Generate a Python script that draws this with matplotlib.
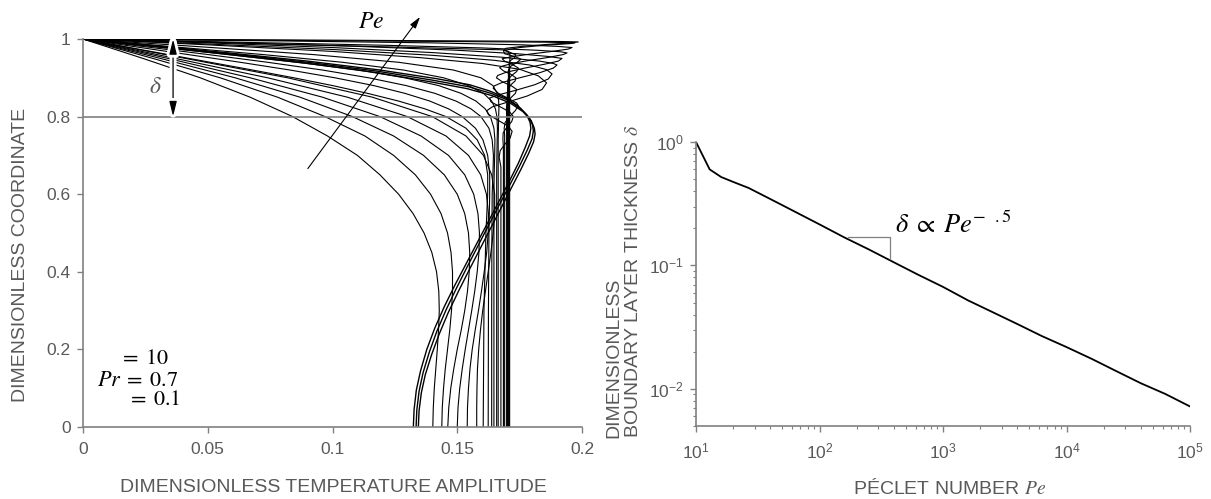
import numpy as np
import matplotlib
matplotlib.use("Agg")
import matplotlib.pyplot as plt
import matplotlib.patheffects as pe
from matplotlib.ticker import LogLocator, NullFormatter

plt.rcParams['font.family'] = ['Liberation Sans', 'DejaVu Sans']
plt.rcParams['mathtext.fontset'] = 'stix'

GREY = '#595959'
AXC = '#808080'

# ---- left panel: amplitude (x) against coordinate (y)
# low Pe, rounded profiles
arc_y = [1.0, 0.95, 0.9, 0.85, 0.8, 0.75, 0.7, 0.65, 0.6, 0.55, 0.5,
         0.45, 0.4, 0.35, 0.3, 0.25, 0.2, 0.15, 0.1, 0.05, 0.0]
arc_x = [
    [0, 0.024, 0.047, 0.067, 0.084, 0.098, 0.110, 0.119, 0.1265, 0.1323, 0.1367,
     0.1398, 0.1417, 0.1426, 0.1428, 0.1425, 0.1420, 0.1414, 0.1408, 0.1404, 0.1402],
    [0, 0.028, 0.055, 0.078, 0.097, 0.113, 0.1245, 0.1332, 0.1393, 0.1435, 0.1461,
     0.1475, 0.1481, 0.1481, 0.1477, 0.1470, 0.1461, 0.1452, 0.1445, 0.1440, 0.1438],
    [0, 0.031, 0.061, 0.087, 0.108, 0.1245, 0.1365, 0.1448, 0.1500, 0.1530, 0.1545,
     0.1550, 0.1548, 0.1541, 0.1530, 0.1516, 0.1500, 0.1486, 0.1474, 0.1466, 0.1462],
    [0, 0.034, 0.067, 0.096, 0.119, 0.1355, 0.1465, 0.1530, 0.1566, 0.1583, 0.1589,
     0.1587, 0.1580, 0.1570, 0.1558, 0.1545, 0.1532, 0.1520, 0.1510, 0.1503, 0.1500],
    [0, 0.037, 0.074, 0.106, 0.130, 0.1455, 0.1545, 0.1594, 0.1617, 0.1625, 0.1624,
     0.1618, 0.1608, 0.1597, 0.1585, 0.1572, 0.1560, 0.1551, 0.1545, 0.1541, 0.1540],
    [0, 0.041, 0.082, 0.116, 0.140, 0.1535, 0.1605, 0.1638, 0.1650, 0.1650, 0.1644,
     0.1635, 0.1624, 0.1613, 0.1602, 0.1593, 0.1586, 0.1581, 0.1579, 0.1578, 0.1578],
]

# medium Pe, squarer profiles
knee_y = [1.0, 0.98, 0.96, 0.94, 0.92, 0.9, 0.88, 0.86, 0.84, 0.82, 0.8,
          0.77, 0.74, 0.7, 0.65, 0.6, 0.5, 0.3, 0.0]
knee_x = [
    [0, 0.017, 0.034, 0.051, 0.068, 0.0845, 0.100, 0.114, 0.1265, 0.137, 0.1455,
     0.1535, 0.158, 0.161, 0.1622, 0.1622, 0.1615, 0.1607, 0.1604],
    [0, 0.021, 0.042, 0.063, 0.083, 0.101, 0.1165, 0.129, 0.139, 0.1465, 0.152,
     0.1573, 0.1603, 0.1622, 0.1630, 0.1630, 0.1627, 0.1625, 0.1624],
    [0, 0.025, 0.050, 0.074, 0.096, 0.1145, 0.1295, 0.1410, 0.1495, 0.1555, 0.1595,
     0.1627, 0.1640, 0.1645, 0.1643, 0.1640, 0.1639, 0.1638, 0.1638],
    [0, 0.029, 0.058, 0.086, 0.1105, 0.129, 0.1425, 0.1515, 0.1575, 0.1612, 0.1633,
     0.1647, 0.1651, 0.1650, 0.1648, 0.1647, 0.1647, 0.1647, 0.1647],
    [0, 0.036, 0.072, 0.104, 0.1285, 0.1445, 0.1545, 0.1605, 0.1638, 0.1653, 0.1659,
     0.1661, 0.1660, 0.1659, 0.1658, 0.1658, 0.1658, 0.1658, 0.1658],
    [0, 0.047, 0.092, 0.1265, 0.1485, 0.1595, 0.1643, 0.1660, 0.1666, 0.1667, 0.1666,
     0.1665, 0.1664, 0.1664, 0.1664, 0.1664, 0.1664, 0.1664, 0.1664],
]

# profiles with an interior maximum, reaching the lowest centre values
s1 = [(0, 1), (0.03, 0.982), (0.06, 0.963), (0.09, 0.943), (0.119, 0.92), (0.1415, 0.898),
      (0.155, 0.882), (0.163, 0.866), (0.1695, 0.848), (0.1745, 0.827), (0.1778, 0.805),
      (0.1792, 0.785), (0.1795, 0.77), (0.179, 0.75), (0.1772, 0.72), (0.1745, 0.68),
      (0.171, 0.635), (0.167, 0.585), (0.1625, 0.53), (0.158, 0.475), (0.1535, 0.42),
      (0.149, 0.365), (0.1448, 0.31), (0.141, 0.255), (0.1378, 0.2), (0.1353, 0.145),
      (0.1336, 0.095), (0.1327, 0.045), (0.1324, 0.0)]
s2 = [(0, 1), (0.03, 0.981), (0.06, 0.961), (0.09, 0.94), (0.118, 0.917), (0.14, 0.894),
      (0.1545, 0.877), (0.1635, 0.86), (0.1705, 0.842), (0.1755, 0.82), (0.1788, 0.798),
      (0.1802, 0.778), (0.1805, 0.763), (0.18, 0.743), (0.178, 0.713), (0.175, 0.673),
      (0.1714, 0.628), (0.1673, 0.578), (0.1628, 0.523), (0.1584, 0.468), (0.154, 0.413),
      (0.1497, 0.358), (0.1456, 0.303), (0.1419, 0.248), (0.1388, 0.193), (0.1363, 0.14),
      (0.1347, 0.092), (0.1338, 0.044), (0.1335, 0.0)]
s3 = [(0, 1), (0.03, 0.98), (0.06, 0.959), (0.09, 0.937), (0.117, 0.914), (0.139, 0.89),
      (0.154, 0.872), (0.164, 0.854), (0.1712, 0.835), (0.1763, 0.813), (0.1796, 0.79),
      (0.1809, 0.77), (0.1812, 0.755), (0.1806, 0.735), (0.1786, 0.705), (0.1756, 0.665),
      (0.172, 0.62), (0.168, 0.57), (0.1636, 0.515), (0.1592, 0.46), (0.1548, 0.405),
      (0.1505, 0.35), (0.1464, 0.295), (0.1428, 0.24), (0.1397, 0.186), (0.1372, 0.135),
      (0.1356, 0.088), (0.1347, 0.042), (0.1344, 0.0)]

# high Pe, overshoot next to the wall followed by a damped wiggle
w1 = [(0, 1), (0.05, 0.985), (0.1, 0.968), (0.135, 0.952), (0.16, 0.937), (0.175, 0.922),
      (0.1825, 0.905), (0.1858, 0.887), (0.184, 0.87), (0.178, 0.853), (0.17, 0.837),
      (0.164, 0.825), (0.1618, 0.815), (0.1625, 0.805), (0.1665, 0.79), (0.1705, 0.775),
      (0.172, 0.762), (0.1712, 0.745), (0.169, 0.728), (0.1672, 0.712), (0.1668, 0.695),
      (0.1675, 0.67), (0.1675, 0.0)]
w2 = [(0, 1), (0.05, 0.987), (0.1, 0.973), (0.14, 0.958), (0.165, 0.945), (0.179, 0.933),
      (0.1858, 0.921), (0.188, 0.91), (0.1865, 0.897), (0.181, 0.882), (0.173, 0.867),
      (0.1665, 0.856), (0.163, 0.848), (0.1635, 0.838), (0.167, 0.826), (0.171, 0.812),
      (0.1725, 0.8), (0.1718, 0.787), (0.1698, 0.772), (0.1684, 0.758), (0.1683, 0.742),
      (0.1685, 0.72), (0.1685, 0.0)]
w3 = [(0, 1), (0.05, 0.99), (0.1, 0.978), (0.14, 0.965), (0.168, 0.953), (0.183, 0.943),
      (0.1885, 0.937), (0.19, 0.933), (0.1885, 0.925), (0.183, 0.913), (0.175, 0.9),
      (0.168, 0.888), (0.1648, 0.879), (0.1644, 0.873), (0.1665, 0.86), (0.171, 0.845),
      (0.1738, 0.835), (0.1745, 0.828), (0.1732, 0.815), (0.171, 0.8), (0.1692, 0.785),
      (0.1688, 0.77), (0.169, 0.75), (0.169, 0.0)]
w4 = [(0, 1), (0.06, 0.99), (0.11, 0.981), (0.15, 0.971), (0.174, 0.962), (0.1865, 0.955),
      (0.192, 0.95), (0.1905, 0.943), (0.185, 0.935), (0.177, 0.925), (0.1695, 0.914),
      (0.1662, 0.906), (0.1657, 0.9), (0.168, 0.89), (0.1718, 0.879), (0.1738, 0.87),
      (0.1733, 0.86), (0.1714, 0.848), (0.1699, 0.835), (0.1697, 0.82), (0.1698, 0.8),
      (0.1698, 0.0)]
w5 = [(0, 1), (0.06, 0.992), (0.12, 0.984), (0.16, 0.977), (0.182, 0.971), (0.1915, 0.967),
      (0.194, 0.964), (0.1925, 0.96), (0.187, 0.953), (0.179, 0.945), (0.172, 0.937),
      (0.168, 0.93), (0.167, 0.926), (0.1685, 0.918), (0.1715, 0.909), (0.1735, 0.9),
      (0.1732, 0.892), (0.1715, 0.882), (0.1702, 0.87), (0.170, 0.85), (0.170, 0.0)]
w6 = [(0, 1), (0.08, 0.995), (0.14, 0.99), (0.176, 0.985), (0.19, 0.981), (0.196, 0.978),
      (0.1945, 0.974), (0.188, 0.968), (0.179, 0.961), (0.1715, 0.954), (0.168, 0.949),
      (0.169, 0.943), (0.1722, 0.934), (0.1745, 0.925), (0.1738, 0.916), (0.1718, 0.906),
      (0.1703, 0.895), (0.1702, 0.88), (0.1702, 0.0)]
w7 = [(0, 1), (0.1, 0.9955), (0.16, 0.993), (0.185, 0.9918), (0.1972, 0.9905),
      (0.195, 0.988), (0.185, 0.984), (0.175, 0.978), (0.1685, 0.97), (0.169, 0.962),
      (0.173, 0.955), (0.1755, 0.948), (0.174, 0.94), (0.1715, 0.93), (0.1705, 0.92),
      (0.1705, 0.0)]
w8 = [(0, 1), (0.1, 0.997), (0.17, 0.9945), (0.192, 0.9935), (0.1985, 0.9925),
      (0.196, 0.99), (0.186, 0.986), (0.176, 0.981), (0.1695, 0.976), (0.1688, 0.972),
      (0.171, 0.966), (0.1735, 0.959), (0.1728, 0.951), (0.1712, 0.944), (0.1708, 0.935),
      (0.1708, 0.0)]
w9 = [(0, 1), (0.1685, 0.972), (0.1705, 0.966), (0.1712, 0.958), (0.171, 0.94),
      (0.171, 0.0)]

# ---- right panel: boundary layer thickness vs Peclet number
pe_num = [10, 12.9, 16, 20, 26.7, 40, 60, 100, 160, 250, 400, 630, 1000, 1600, 2500,
          4000, 6300, 10000, 16000, 25000, 40000, 63000, 100000]
delta = [1.0, 0.60, 0.52, 0.475, 0.424, 0.345, 0.28, 0.215, 0.168, 0.135, 0.106, 0.084,
         0.067, 0.052, 0.042, 0.0335, 0.0268, 0.0218, 0.0175, 0.0140, 0.0111, 0.0091, 0.0072]
tri_pe = [171, 373, 373]
tri_delta = [0.170, 0.170, 0.113]

fig = plt.figure(figsize=(12.11, 4.99), dpi=100)
ax1 = fig.add_axes([83 / 1211, 72 / 499, 499 / 1211, 388 / 499])
ax2 = fig.add_axes([696 / 1211, 73 / 499, 494 / 1211, 284 / 499])

for xs in arc_x:
    ax1.plot(xs, arc_y, color='black', lw=0.8)
for xs in knee_x:
    ax1.plot(xs, knee_y, color='black', lw=0.8)
for curve in (s1, s2, s3):
    xs, ys = zip(*curve)
    ax1.plot(xs, ys, color='black', lw=1.0)
for curve in (w1, w2, w3, w4, w5, w6, w7, w8, w9):
    xs, ys = zip(*curve)
    ax1.plot(xs, ys, color='black', lw=0.8)

ax1.axhline(0.8, color=AXC, lw=1.2)
ax1.set_xlim(0, 0.2)
ax1.set_ylim(0, 1)
ax1.set_xticks([0, 0.05, 0.1, 0.15, 0.2])
ax1.set_xticklabels(['0', '0.05', '0.1', '0.15', '0.2'])
ax1.set_yticks([0, 0.2, 0.4, 0.6, 0.8, 1])
ax1.set_yticklabels(['0', '0.2', '0.4', '0.6', '0.8', '1'])

# delta double arrow
arr = ax1.annotate('', xy=(0.0361, 1.0), xytext=(0.0361, 0.8),
                   arrowprops=dict(arrowstyle='<|-|>,head_length=0.9,head_width=0.22',
                                   color='black', lw=0.9, shrinkA=0, shrinkB=0))
arr.arrow_patch.set_path_effects([pe.Stroke(linewidth=5, foreground='white'), pe.Normal()])
ax1.text(0.029, 0.876, r'$\delta$', fontsize=17, color=GREY, ha='center', va='center')

# Pe arrow
ax1.annotate('', xy=(0.1351, 1.057), xytext=(0.0901, 0.666), annotation_clip=False,
             arrowprops=dict(arrowstyle='-|>,head_length=0.7,head_width=0.2',
                             color='black', lw=0.8, shrinkA=0, shrinkB=0))
ax1.text(0.1153, 1.045, r'$Pe$', fontsize=17, ha='center', va='center', clip_on=False)

ax1.text(0.0143, 0.176, r'$=\;10$', fontsize=16, ha='left', va='center')
ax1.text(0.0056, 0.120, r'$Pr\;=\;0.7$', fontsize=16, ha='left', va='center')
ax1.text(0.0175, 0.072, r'$=\;0.1$', fontsize=16, ha='left', va='center')

# right panel
ax2.plot(pe_num, delta, color='black', lw=1.3)
ax2.plot(tri_pe, tri_delta, color=AXC, lw=0.9)
ax2.set_xscale('log')
ax2.set_yscale('log')
ax2.set_xlim(10, 1e5)
ax2.set_ylim(0.005, 1)
ax2.xaxis.set_major_locator(LogLocator(base=10, numticks=10))
ax2.xaxis.set_minor_locator(LogLocator(base=10, subs=np.arange(2, 10), numticks=20))
ax2.yaxis.set_major_locator(LogLocator(base=10, numticks=10))
ax2.yaxis.set_minor_locator(LogLocator(base=10, subs=np.arange(2, 10), numticks=20))
ax2.xaxis.set_minor_formatter(NullFormatter())
ax2.yaxis.set_minor_formatter(NullFormatter())
ax2.text(408, 0.168, r'$\delta\;\propto\;Pe^{-\ \ .5}$', fontsize=19, ha='left', va='bottom')

for ax in (ax1, ax2):
    for s in ('top', 'right'):
        ax.spines[s].set_visible(False)
    for s in ('left', 'bottom'):
        ax.spines[s].set_color(AXC)
        ax.spines[s].set_linewidth(1.2)
    ax.tick_params(which='major', direction='out', length=4, width=1, color=AXC,
                   labelcolor=GREY, labelsize=12.5)
    ax.tick_params(which='minor', direction='out', length=2.5, width=0.8, color=AXC)
ax1.tick_params(axis='x', pad=7)
ax1.tick_params(axis='y', pad=5)
ax2.tick_params(axis='x', pad=7)
ax2.tick_params(axis='y', pad=5)

fig.text(333 / 1211, 1 - 487 / 499, 'DIMENSIONLESS TEMPERATURE AMPLITUDE', fontsize=14,
         color=GREY, ha='center', va='center')
fig.text(21 / 1211, 1 - 255 / 499, 'DIMENSIONLESS COORDINATE', fontsize=14, color=GREY,
         rotation=90, ha='center', va='center')
fig.text(950 / 1211, 1 - 488 / 499, r'PÉCLET NUMBER $Pe$', fontsize=14, color=GREY,
         ha='center', va='center')
fig.text(624 / 1211, 1 - 438 / 499, 'DIMENSIONLESS\nBOUNDARY LAYER THICKNESS $\\delta$',
         fontsize=14, color=GREY, rotation=90, ha='center', va='bottom',
         multialignment='left', linespacing=1.2)

fig.savefig('out.png', dpi=100)
